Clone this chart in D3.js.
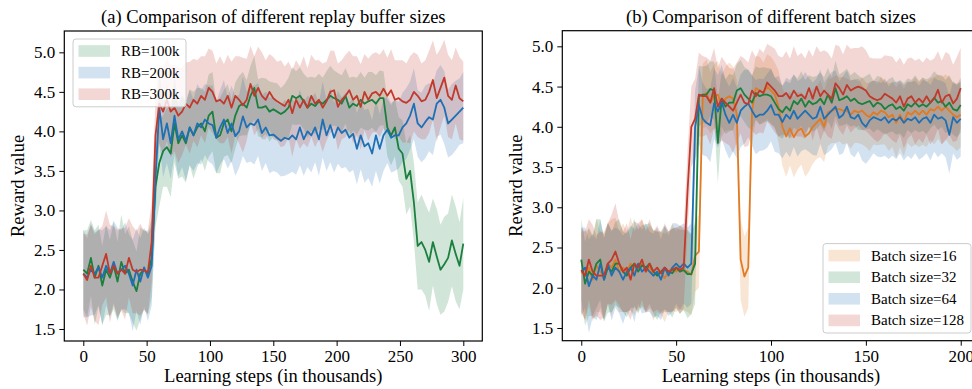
<!DOCTYPE html>
<html>
<head>
<meta charset="utf-8">
<script src="https://cdn.jsdelivr.net/npm/d3@7"></script>
<style>
  html, body { margin: 0; padding: 0; background: #fff; }
  svg { display: block; }
  text { font-family: "Liberation Serif", "Times New Roman", serif; fill: #000; }
</style>
</head>
<body>
<svg id="chart" width="972" height="389"></svg>
<script>
// ---------- data ----------
// learning steps (thousands) at which the runs were evaluated
const stepsA = d3.range(0, 301, 3);
const stepsB = d3.range(0, 201, 2);

const xTicksA = [0, 50, 100, 150, 200, 250, 300];
const xTicksB = [0, 50, 100, 150, 200];
const yTicks = [1.5, 2.0, 2.5, 3.0, 3.5, 4.0, 4.5, 5.0];

const labelsA = ["RB=100k", "RB=200k", "RB=300k"];
const labelsB = ["Batch size=16", "Batch size=32", "Batch size=64", "Batch size=128"];

// (a) mean reward per replay buffer size
const rb100Mean = [
  2.25, 2.2, 2.4, 2.15, 2.3, 2.05, 2.25, 2.15, 2.3, 2.1, 2.35, 2.2, 2.25, 2.1, 1.98, 2.2, 2.25, 2.2,
  2.4, 3.3, 3.6, 3.75, 3.8, 3.72, 4.1, 3.85, 3.95, 3.85,
  4.05, 3.95, 4.05, 4.1, 4.0, 4.2, 4.25, 3.92, 3.95, 4.1,
  4.15, 4.0, 4.2, 4.32, 4.35, 4.3, 4.45, 4.55, 4.3, 4.3,
  4.32, 4.25, 4.28, 4.25, 4.22, 4.25, 4.3, 4.45, 4.42, 4.45,
  4.38, 4.3, 4.35, 4.32, 4.38, 4.35, 4.4, 4.45, 4.42, 4.4,
  4.35, 4.45, 4.3, 4.35, 4.32, 4.4, 4.35, 4.38, 4.4, 4.35,
  4.42, 4.42, 4.05, 3.95, 4.05, 3.78, 3.72, 3.4, 3.5, 3.1,
  2.55, 2.6, 2.5, 2.35, 2.6, 2.42, 2.25, 2.32, 2.4, 2.62,
  2.45, 2.3, 2.58
];
const rb200Mean = [
  2.2, 2.15, 2.25, 2.2, 2.28, 2.15, 2.3, 2.2, 2.35, 2.2, 2.25, 2.3, 2.2, 2.05, 2.25, 2.1, 2.28, 2.15,
  2.3, 3.4, 4.3, 3.9, 4.1, 3.85, 4.2, 3.9, 4.0, 3.88,
  4.05, 3.95, 4.1, 4.05, 4.15, 4.1, 4.08, 3.92, 4.05, 4.15,
  3.98, 4.1, 3.94, 4.0, 4.19, 4.05, 4.1, 4.08, 4.15, 3.98,
  4.05, 3.95, 3.96, 3.92, 3.88, 3.92, 3.9, 3.95, 3.9, 4.05,
  3.9, 4.0, 3.95, 4.05, 3.9, 4.15, 3.95, 4.08, 3.92, 4.05,
  3.98, 4.02, 3.92, 3.97, 3.78, 3.95, 3.81, 3.85, 3.72, 3.95,
  3.78, 3.95, 4.02, 3.92, 3.95, 3.95, 4.05, 4.1, 4.2, 4.35,
  4.1, 4.05, 4.12, 4.18, 4.15, 4.35, 4.4, 4.3, 4.1, 4.15,
  4.2, 4.25, 4.3
];
const rb300Mean = [
  2.2, 2.12, 2.3, 2.15, 2.15, 2.3, 2.45, 2.2, 2.3, 2.2, 2.25, 2.2, 2.4, 2.25, 2.22, 2.25, 2.24, 2.22,
  2.6, 3.95, 4.35, 4.25, 4.4, 4.25, 4.3, 4.2, 4.25, 4.35,
  4.3, 4.4, 4.35, 4.45, 4.4, 4.55, 4.5, 4.38, 4.4, 4.35,
  4.45, 4.3, 4.45, 4.4, 4.33, 4.4, 4.6, 4.45, 4.55, 4.45,
  4.4, 4.5, 4.42, 4.38, 4.35, 4.32, 4.4, 4.23, 4.4, 4.3,
  4.4, 4.3, 4.45, 4.35, 4.4, 4.3, 4.38, 4.5, 4.52, 4.31,
  4.4, 4.45, 4.52, 4.4, 4.45, 4.31, 4.5, 4.4, 4.48, 4.5,
  4.45, 4.54, 4.45, 4.52, 4.4, 4.42, 4.38, 4.36, 4.4, 4.5,
  4.45, 4.38, 4.4, 4.5, 4.65, 4.42, 4.55, 4.68, 4.45, 4.4,
  4.58, 4.42, 4.38
];

// (a) standard deviation across runs
const rb100Std = [
  0.5, 0.55, 0.48, 0.6, 0.52, 0.5, 0.57, 0.48, 0.55, 0.5, 0.6, 0.5, 0.55, 0.52, 0.5, 0.58, 0.5, 0.52,
  0.5, 0.5, 0.55, 0.45, 0.5, 0.55, 0.5, 0.45, 0.52, 0.5,
  0.48, 0.55, 0.5, 0.45, 0.5, 0.52, 0.5, 0.45, 0.48, 0.42,
  0.45, 0.4, 0.42, 0.38, 0.4, 0.35, 0.38, 0.4, 0.36, 0.38,
  0.35, 0.38, 0.34, 0.36, 0.33, 0.35, 0.38, 0.36, 0.34, 0.36,
  0.35, 0.38, 0.34, 0.36, 0.35, 0.33, 0.36, 0.38, 0.35, 0.34,
  0.36, 0.35, 0.38, 0.34, 0.36, 0.35, 0.33, 0.37, 0.35, 0.36,
  0.35, 0.34, 0.36, 0.38, 0.36, 0.4, 0.42, 0.45, 0.45, 0.5,
  0.55, 0.6, 0.58, 0.62, 0.55, 0.6, 0.57, 0.6, 0.56, 0.58,
  0.6, 0.55, 0.58
];
const rb200Std = [
  0.55, 0.5, 0.58, 0.52, 0.48, 0.6, 0.5, 0.55, 0.52, 0.58, 0.5, 0.55, 0.5, 0.58, 0.52, 0.55, 0.5, 0.55,
  0.5, 0.5, 0.45, 0.48, 0.5, 0.45, 0.5, 0.47, 0.45, 0.5,
  0.48, 0.45, 0.5, 0.47, 0.45, 0.48, 0.5, 0.45, 0.47, 0.5,
  0.45, 0.48, 0.5, 0.46, 0.5, 0.45, 0.48, 0.5, 0.46, 0.48,
  0.45, 0.48, 0.46, 0.44, 0.45, 0.48, 0.44, 0.46, 0.45, 0.48,
  0.46, 0.45, 0.47, 0.44, 0.46, 0.48, 0.45, 0.47, 0.44, 0.46,
  0.45, 0.47, 0.44, 0.46, 0.45, 0.43, 0.46, 0.44, 0.42, 0.45,
  0.44, 0.45, 0.42, 0.44, 0.45, 0.42, 0.44, 0.45, 0.43, 0.45,
  0.42, 0.44, 0.46, 0.43, 0.45, 0.42, 0.44, 0.46, 0.43, 0.45,
  0.44, 0.42, 0.45
];
const rb300Std = [
  0.5, 0.58, 0.52, 0.55, 0.6, 0.5, 0.55, 0.62, 0.5, 0.55, 0.52, 0.58, 0.5, 0.55, 0.52, 0.58, 0.5, 0.53,
  0.5, 0.5, 0.5, 0.55, 0.52, 0.58, 0.55, 0.6, 0.55, 0.52,
  0.58, 0.52, 0.55, 0.5, 0.55, 0.5, 0.52, 0.48, 0.55, 0.5,
  0.52, 0.58, 0.5, 0.55, 0.6, 0.52, 0.48, 0.5, 0.52, 0.55,
  0.5, 0.48, 0.52, 0.5, 0.55, 0.5, 0.48, 0.55, 0.5, 0.52,
  0.55, 0.5, 0.52, 0.55, 0.5, 0.56, 0.5, 0.52, 0.5, 0.55,
  0.5, 0.52, 0.5, 0.55, 0.5, 0.54, 0.48, 0.52, 0.5, 0.5,
  0.52, 0.5, 0.48, 0.52, 0.5, 0.48, 0.52, 0.5, 0.55, 0.5,
  0.52, 0.48, 0.5, 0.52, 0.5, 0.55, 0.5, 0.48, 0.52, 0.5,
  0.48, 0.52, 0.5
];

// (b) mean reward per batch size
const bs16Mean = [
  2.2, 2.15, 2.25, 2.1, 2.28, 2.2, 2.15, 2.3, 2.25, 2.35,
  2.2, 2.25, 2.2, 2.3, 2.18, 2.25, 2.3, 2.2, 2.25, 2.15,
  2.2, 2.18, 2.12, 2.2, 2.25, 2.2, 2.25, 2.22, 2.2, 2.16,
  2.4, 2.45, 4.38, 4.42, 4.3, 4.38, 4.4, 4.25, 4.35, 4.38,
  4.35, 4.15, 2.35, 2.14, 2.25, 4.2, 4.48, 4.45, 4.42, 4.5,
  4.45, 4.4, 4.25, 4.0, 3.88, 3.98, 3.87, 3.95, 3.98, 3.88,
  3.92, 4.0, 4.05, 4.1, 4.0, 4.18, 4.2, 4.22, 4.22, 4.2,
  4.2, 4.15, 4.2, 4.18, 4.2, 4.15, 4.12, 4.18, 4.15, 4.2,
  4.18, 4.12, 4.15, 4.05, 4.15, 4.05, 4.18, 4.15, 4.2, 4.15,
  4.2, 4.15, 4.22, 4.2, 4.25, 4.2, 4.25, 4.2, 4.15, 4.12,
  4.15
];
const bs32Mean = [
  2.35, 2.05, 2.2, 2.15, 2.3, 2.35, 2.1, 2.25, 2.2, 2.3,
  2.3, 2.2, 2.15, 2.25, 2.3, 2.2, 2.28, 2.25, 2.3, 2.2,
  2.15, 2.2, 2.25, 2.2, 2.18, 2.25, 2.2, 2.22, 2.17, 2.17,
  2.3, 4.38, 4.4, 4.4, 4.47, 4.45, 3.8, 4.35, 4.25, 4.3,
  4.3, 4.45, 4.48, 4.4, 4.35, 4.3, 4.42, 4.38, 4.4, 4.4,
  4.38, 4.3, 4.22, 4.18, 4.25, 4.2, 4.32, 4.28, 4.35, 4.25,
  4.32, 4.28, 4.3, 4.35, 4.28, 4.4, 4.3, 4.48, 4.33, 4.35,
  4.38, 4.32, 4.35, 4.3, 4.28, 4.3, 4.32, 4.25, 4.3, 4.28,
  4.22, 4.26, 4.28, 4.22, 4.25, 4.2, 4.28, 4.25, 4.3, 4.25,
  4.28, 4.25, 4.3, 4.36, 4.3, 4.32, 4.25, 4.3, 4.22, 4.2,
  4.27
];
const bs64Mean = [
  2.2, 2.25, 2.02, 2.15, 2.1, 2.3, 2.1, 2.3, 2.15, 2.25,
  2.2, 2.1, 2.2, 2.25, 2.15, 2.3, 2.2, 2.25, 2.2, 2.15,
  2.2, 2.1, 2.25, 2.15, 2.25, 2.3, 2.25, 2.3, 2.25, 2.3,
  4.0, 4.27, 4.1, 4.05, 4.02, 4.29, 4.19, 4.31, 4.15, 4.05,
  4.15, 4.05, 4.2, 4.25, 4.29, 4.2, 4.12, 4.15, 4.15, 4.2,
  4.27, 4.15, 4.15, 4.06, 4.15, 4.1, 4.2, 4.1, 4.15, 4.2,
  4.15, 4.1, 4.12, 4.25, 4.1, 4.15, 4.2, 4.25, 4.11, 4.15,
  4.25, 4.12, 4.1, 4.15, 4.05, 4.0, 4.08, 4.12, 4.1, 4.08,
  4.12, 4.05, 4.1, 4.08, 4.12, 4.05, 4.1, 4.08, 4.12, 4.05,
  4.1, 4.12, 4.05, 4.15, 4.1, 4.12, 4.08, 3.9, 4.12, 4.05,
  4.1
];
const bs128Mean = [
  2.22, 2.15, 2.35, 2.2, 2.15, 2.15, 2.15, 2.3, 2.35, 2.45,
  2.3, 2.2, 2.25, 2.1, 2.3, 2.25, 2.35, 2.2, 2.3, 2.2,
  2.25, 2.18, 2.25, 2.2, 2.22, 2.25, 2.22, 2.25, 3.2, 4.0,
  4.1, 4.4, 4.38, 4.38, 4.3, 4.48, 4.25, 4.35, 4.3, 4.25,
  4.2, 4.3, 4.4, 4.3, 4.28, 4.45, 4.38, 4.45, 4.42, 4.55,
  4.5, 4.45, 4.38, 4.38, 4.42, 4.35, 4.45, 4.38, 4.4, 4.35,
  4.48, 4.35, 4.5, 4.38, 4.45, 4.4, 4.35, 4.54, 4.48, 4.4,
  4.52, 4.45, 4.48, 4.5, 4.48, 4.45, 4.38, 4.35, 4.33, 4.35,
  4.41, 4.38, 4.35, 4.3, 4.38, 4.25, 4.35, 4.38, 4.3, 4.35,
  4.3, 4.38, 4.3, 4.35, 4.46, 4.3, 4.38, 4.4, 4.29, 4.35,
  4.48
];

// (b) standard deviation across runs
const bs16Std = [
  0.5, 0.55, 0.48, 0.52, 0.58, 0.5, 0.55, 0.5, 0.6, 0.52,
  0.5, 0.55, 0.5, 0.58, 0.52, 0.5, 0.55, 0.5, 0.52, 0.56,
  0.5, 0.52, 0.55, 0.5, 0.54, 0.5, 0.52, 0.5, 0.5, 0.5,
  0.45, 0.45, 0.4, 0.42, 0.38, 0.4, 0.42, 0.38, 0.4, 0.42,
  0.4, 0.42, 0.5, 0.5, 0.5, 0.42, 0.4, 0.42, 0.38, 0.4,
  0.42, 0.4, 0.45, 0.48, 0.5, 0.46, 0.5, 0.48, 0.45, 0.5,
  0.48, 0.46, 0.45, 0.48, 0.44, 0.42, 0.4, 0.42, 0.4, 0.42,
  0.4, 0.42, 0.4, 0.38, 0.42, 0.4, 0.42, 0.4, 0.38, 0.42,
  0.4, 0.42, 0.4, 0.44, 0.4, 0.42, 0.38, 0.4, 0.42, 0.4,
  0.42, 0.4, 0.38, 0.42, 0.4, 0.42, 0.4, 0.42, 0.4, 0.42,
  0.4
];
const bs32Std = [
  0.5, 0.52, 0.55, 0.5, 0.55, 0.5, 0.52, 0.56, 0.5, 0.52,
  0.55, 0.5, 0.52, 0.5, 0.55, 0.52, 0.5, 0.54, 0.5, 0.52,
  0.55, 0.5, 0.52, 0.5, 0.55, 0.5, 0.52, 0.5, 0.55, 0.5,
  0.5, 0.38, 0.35, 0.36, 0.34, 0.36, 0.5, 0.35, 0.34, 0.36,
  0.34, 0.33, 0.35, 0.34, 0.36, 0.34, 0.33, 0.35, 0.34, 0.33,
  0.34, 0.32, 0.34, 0.33, 0.32, 0.34, 0.33, 0.32, 0.34, 0.33,
  0.32, 0.34, 0.33, 0.32, 0.34, 0.33, 0.32, 0.34, 0.32, 0.33,
  0.34, 0.32, 0.33, 0.34, 0.32, 0.33, 0.34, 0.32, 0.33, 0.34,
  0.32, 0.33, 0.34, 0.32, 0.33, 0.34, 0.32, 0.33, 0.34, 0.32,
  0.33, 0.34, 0.32, 0.33, 0.34, 0.32, 0.33, 0.34, 0.32, 0.33,
  0.34
];
const bs64Std = [
  0.55, 0.5, 0.58, 0.52, 0.5, 0.55, 0.52, 0.5, 0.56, 0.5,
  0.52, 0.55, 0.5, 0.52, 0.58, 0.5, 0.52, 0.55, 0.5, 0.52,
  0.55, 0.5, 0.52, 0.5, 0.55, 0.5, 0.52, 0.5, 0.5, 0.5,
  0.45, 0.48, 0.45, 0.42, 0.46, 0.44, 0.45, 0.46, 0.44, 0.45,
  0.46, 0.44, 0.45, 0.46, 0.42, 0.44, 0.46, 0.45, 0.44, 0.46,
  0.45, 0.46, 0.48, 0.45, 0.46, 0.48, 0.45, 0.47, 0.45, 0.48,
  0.46, 0.45, 0.48, 0.46, 0.45, 0.47, 0.48, 0.45, 0.46, 0.48,
  0.45, 0.46, 0.48, 0.45, 0.47, 0.46, 0.48, 0.45, 0.47, 0.46,
  0.48, 0.45, 0.46, 0.48, 0.45, 0.47, 0.46, 0.48, 0.45, 0.46,
  0.48, 0.45, 0.47, 0.46, 0.48, 0.45, 0.46, 0.48, 0.45, 0.46,
  0.47
];
const bs128Std = [
  0.52, 0.55, 0.5, 0.58, 0.5, 0.55, 0.52, 0.5, 0.56, 0.6,
  0.52, 0.5, 0.55, 0.5, 0.52, 0.55, 0.5, 0.52, 0.55, 0.5,
  0.52, 0.5, 0.55, 0.5, 0.52, 0.5, 0.55, 0.5, 0.5, 0.5,
  0.5, 0.52, 0.5, 0.48, 0.52, 0.5, 0.48, 0.52, 0.5, 0.48,
  0.52, 0.5, 0.48, 0.55, 0.52, 0.5, 0.48, 0.52, 0.5, 0.48,
  0.5, 0.52, 0.5, 0.48, 0.52, 0.5, 0.55, 0.5, 0.52, 0.5,
  0.48, 0.52, 0.5, 0.55, 0.5, 0.52, 0.5, 0.48, 0.52, 0.5,
  0.5, 0.52, 0.5, 0.48, 0.52, 0.5, 0.48, 0.5, 0.52, 0.5,
  0.48, 0.5, 0.52, 0.5, 0.48, 0.52, 0.5, 0.48, 0.52, 0.5,
  0.5, 0.48, 0.52, 0.5, 0.48, 0.52, 0.55, 0.5, 0.48, 0.52,
  0.5
];

// ---------- styling ----------
const COLORS = { orange: "#e07b24", green: "#1b7f3e", blue: "#1f6fb4", red: "#c0392b" };
const FILL_ALPHA = 0.2;
const FONT_TITLE = 18.5, FONT_LABEL = 18.5, FONT_TICK = 17, FONT_LEGEND = 15;

const panels = [
  {
    title: "(a) Comparison of different replay buffer sizes",
    box: { left: 64.3, right: 482.3, top: 31, bottom: 341 },
    xDomain: [-15, 315], yDomain: [1.348, 5.27],
    steps: stepsA, xTicks: xTicksA,
    series: [
      { label: labelsA[0], mean: rb100Mean, std: rb100Std, color: COLORS.green },
      { label: labelsA[1], mean: rb200Mean, std: rb200Std, color: COLORS.blue },
      { label: labelsA[2], mean: rb300Mean, std: rb300Std, color: COLORS.red }
    ],
    legend: { corner: "top-left", width: 113 },
    yLabelX: 24
  },
  {
    title: "(b) Comparison of different batch sizes",
    box: { left: 562.3, right: 979.7, top: 30.7, bottom: 340.7 },
    xDomain: [-10, 210], yDomain: [1.342, 5.194],
    steps: stepsB, xTicks: xTicksB,
    series: [
      { label: labelsB[0], mean: bs16Mean, std: bs16Std, color: COLORS.orange },
      { label: labelsB[1], mean: bs32Mean, std: bs32Std, color: COLORS.green },
      { label: labelsB[2], mean: bs64Mean, std: bs64Std, color: COLORS.blue },
      { label: labelsB[3], mean: bs128Mean, std: bs128Std, color: COLORS.red }
    ],
    legend: { corner: "bottom-right", width: 148 },
    yLabelX: 522
  }
];

const svg = d3.select("#chart");

panels.forEach((p, pi) => {
  const b = p.box;
  const x = d3.scaleLinear().domain(p.xDomain).range([b.left, b.right]);
  const y = d3.scaleLinear().domain(p.yDomain).range([b.bottom, b.top]);

  const clipId = "clip" + pi;
  svg.append("clipPath").attr("id", clipId)
    .append("rect")
    .attr("x", b.left).attr("y", b.top)
    .attr("width", b.right - b.left).attr("height", b.bottom - b.top);

  const plot = svg.append("g").attr("clip-path", `url(#${clipId})`);

  // shaded mean ± std bands
  const band = s => d3.area()
    .x((d, i) => x(p.steps[i]))
    .y0((d, i) => y(s.mean[i] - s.std[i]))
    .y1((d, i) => y(s.mean[i] + s.std[i]))(s.mean);

  plot.selectAll("path.band").data(p.series).enter()
    .append("path").attr("class", "band")
    .attr("d", band)
    .attr("fill", s => s.color)
    .attr("fill-opacity", FILL_ALPHA)
    .attr("stroke", "none");

  // mean curves
  const line = d3.line().x((d, i) => x(p.steps[i])).y(d => y(d));
  plot.selectAll("path.mean").data(p.series).enter()
    .append("path").attr("class", "mean")
    .attr("d", s => line(s.mean))
    .attr("fill", "none")
    .attr("stroke", s => s.color)
    .attr("stroke-width", 1.8)
    .attr("stroke-linejoin", "round");

  // axes
  const xAxis = d3.axisBottom(x).tickValues(p.xTicks).tickFormat(d3.format("d"))
    .tickSizeInner(5).tickSizeOuter(0).tickPadding(4);
  const yAxis = d3.axisLeft(y).tickValues(yTicks).tickFormat(d3.format(".1f"))
    .tickSizeInner(5).tickSizeOuter(0).tickPadding(4);

  const gx = svg.append("g").attr("transform", `translate(0,${b.bottom})`).call(xAxis);
  const gy = svg.append("g").attr("transform", `translate(${b.left},0)`).call(yAxis);
  [gx, gy].forEach(g => {
    g.select(".domain").remove();
    g.selectAll(".tick line").attr("stroke", "#000").attr("stroke-width", 1);
    g.selectAll(".tick text")
      .attr("font-family", "Liberation Serif, Times New Roman, serif")
      .attr("font-size", FONT_TICK).attr("fill", "#000");
  });

  // frame
  svg.append("rect")
    .attr("x", b.left).attr("y", b.top)
    .attr("width", b.right - b.left).attr("height", b.bottom - b.top)
    .attr("fill", "none").attr("stroke", "#000").attr("stroke-width", 1.2);

  // titles and axis labels
  const cx = (b.left + b.right) / 2;
  svg.append("text").attr("x", cx).attr("y", 23)
    .attr("text-anchor", "middle").attr("font-size", FONT_TITLE)
    .text(p.title);
  svg.append("text").attr("x", cx).attr("y", 382)
    .attr("text-anchor", "middle").attr("font-size", FONT_LABEL)
    .text("Learning steps (in thousands)");
  svg.append("text")
    .attr("transform", `translate(${p.yLabelX},${(b.top + b.bottom) / 2}) rotate(-90)`)
    .attr("text-anchor", "middle").attr("font-size", FONT_LABEL)
    .text("Reward value");

  // legend
  const rowH = 21.6, pad = 8.4;
  const lh = p.series.length * rowH + 3;
  const lw = p.legend.width;
  const lx = p.legend.corner === "top-left" ? b.left + 8.7 : b.right - 8.7 - lw;
  const ly = p.legend.corner === "top-left" ? b.top + 8 : b.bottom - 7.7 - lh;
  const lg = svg.append("g").attr("transform", `translate(${lx},${ly})`);
  lg.append("rect").attr("width", lw).attr("height", lh)
    .attr("rx", 3).attr("ry", 3)
    .attr("fill", "#fff").attr("fill-opacity", 0.8)
    .attr("stroke", "#cccccc").attr("stroke-width", 1);
  p.series.forEach((s, i) => {
    const cy = 12 + i * rowH;
    lg.append("rect").attr("x", 5.5).attr("y", cy - 5.8)
      .attr("width", 31.5).attr("height", 11.6)
      .attr("fill", s.color).attr("fill-opacity", FILL_ALPHA);
    lg.append("text").attr("x", 48).attr("y", cy + 5)
      .attr("font-size", FONT_LEGEND).text(s.label);
  });
});
</script>
</body>
</html>
